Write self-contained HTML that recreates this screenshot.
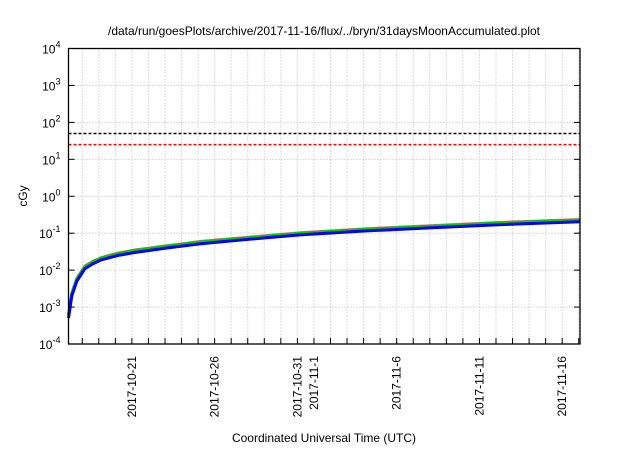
<!DOCTYPE html>
<html><head><meta charset="utf-8"><style>
body{margin:0;background:#fff;font-family:"Liberation Sans",sans-serif}
</style></head><body>
<svg id="c" width="640" height="448" xmlns="http://www.w3.org/2000/svg" font-family="Liberation Sans, sans-serif" font-size="12"></svg>
<script>
const days=[0,0.2,0.5,1,1.5,2,3,4,6,8,10,14,18,22,26,30.9];
const blueVals=[5e-4,2e-3,5e-3,1.1e-2,1.5e-2,1.9e-2,2.5e-2,3.0e-2,4.0e-2,5.2e-2,6.3e-2,9e-2,0.115,0.14,0.17,0.205];
const greenVals=[6e-4,2.3e-3,5.8e-3,1.25e-2,1.7e-2,2.15e-2,2.8e-2,3.4e-2,4.5e-2,5.8e-2,7.0e-2,1.0e-1,0.128,0.156,0.19,0.228];
const redVals=[6.2e-4,2.4e-3,6e-3,1.3e-2,1.75e-2,2.2e-2,2.9e-2,3.5e-2,4.6e-2,6.0e-2,7.2e-2,1.03e-1,0.132,0.16,0.195,0.235];
const thresholds=[50,25];
const yExps=[-4,-3,-2,-1,0,1,2,3,4];
const xTickLabels=[["2017-10-21",3.83],["2017-10-26",8.83],["2017-10-31",13.83],["2017-11-1",14.83],["2017-11-6",19.83],["2017-11-11",24.83],["2017-11-16",29.83]];
const L=68.5,R=580,T=48.5,B=344;
const xs=d=>L+d*16.55;
const ys=v=>T+(4-Math.log10(v))*(B-T)/8;
const s=document.getElementById('c');const NS='http://www.w3.org/2000/svg';
function mk(t,a,txt){const e=document.createElementNS(NS,t);for(const k in a)e.setAttribute(k,a[k]);if(txt!==undefined)e.textContent=txt;s.appendChild(e);return e;}
// grid
for(let d=0.83;xs(d)<R;d++){const e=mk('line',{x1:xs(d),x2:xs(d),y1:T,y2:B,stroke:'#bbb','stroke-dasharray':'1,2'});

const t=mk('line',{x1:xs(d),x2:xs(d),y1:B,y2:B-6,stroke:'#000'});}
yExps.forEach(p=>{const y=ys(Math.pow(10,p));
if(p>-4&&p<4){const g=mk('line',{x1:L,x2:R,y1:y,y2:y,stroke:'#bbb','stroke-dasharray':'1,2'});}
const tk=mk('line',{x1:L,x2:L+6,y1:y,y2:y,stroke:'#000'});
const tk2=mk('line',{x1:R,x2:R-6,y1:y,y2:y,stroke:'#000'});
const t=mk('text',{x:L-8,y:y+5,'text-anchor':'end'});
t.innerHTML='10<tspan dy="-6" font-size="9">'+p+'</tspan>';});
xTickLabels.forEach(([lab,d])=>{const x=xs(d)+4;const t=mk('text',{x:x,y:B+12,'text-anchor':'end',transform:`rotate(-90 ${x} ${B+12})`},lab);
});
const colors=['#000','#f00'];
thresholds.forEach((v,i)=>{const e=mk('line',{x1:L,x2:R,y1:ys(v),y2:ys(v),stroke:colors[i],'stroke-width':1.6,'stroke-dasharray':'3,2'});
});
[[redVals,'#f66','red-series'],[greenVals,'#0c0','green-series'],[blueVals,'#00f','blue-series']].forEach(([vals,c,n])=>{
const p=mk('path',{d:vals.map((v,i)=>(i?'L':'M')+xs(days[i]).toFixed(1)+','+ys(v).toFixed(1)).join(''),fill:'none',stroke:c,'stroke-width':3});
});
const fr=mk('rect',{x:L,y:T,width:R-L,height:B-T,fill:'none',stroke:'#000','stroke-width':1.3});
const ti=mk('text',{x:324,y:35,'text-anchor':'middle'},'/data/run/goesPlots/archive/2017-11-16/flux/../bryn/31daysMoonAccumulated.plot');
const xl=mk('text',{x:324,y:442,'text-anchor':'middle'},'Coordinated Universal Time (UTC)');
const yl=mk('text',{x:27,y:196,'text-anchor':'middle',transform:'rotate(-90 27 196)'},'cGy');
</script></body></html>
